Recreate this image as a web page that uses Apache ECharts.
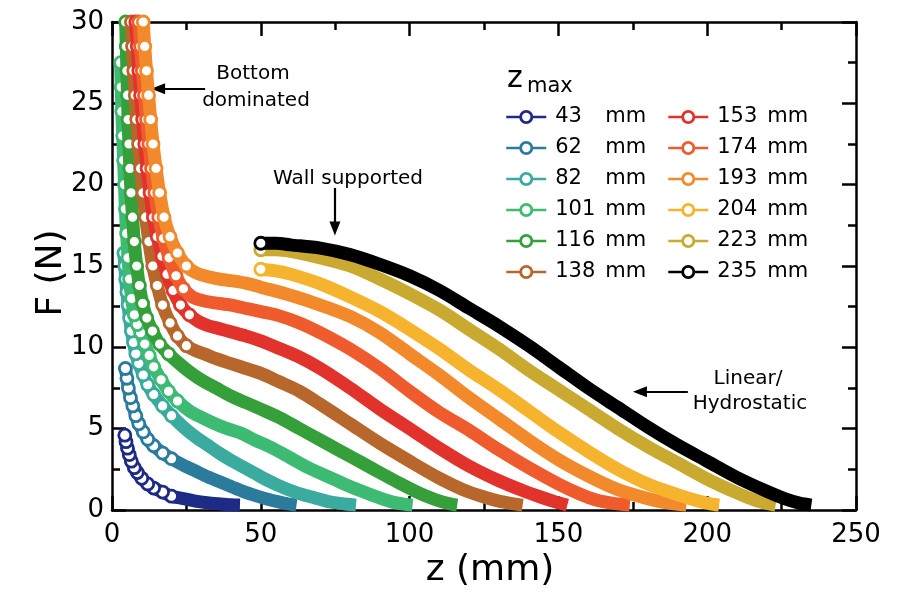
<!DOCTYPE html>
<html><head><meta charset="utf-8">
<script src="https://cdn.jsdelivr.net/npm/echarts@6/dist/echarts.min.js"></script>
<style>html,body{margin:0;padding:0;background:#fff}#c{width:911px;height:594px}</style>
</head><body><div id="c"></div>
<script>
// ---- data (z in mm, F in N) ----
const zmaxLabels = ['43','62','82','101','116','138','153','174','193','204','223','235'];
const colors = ['#1d2a86','#2b7c9c','#3aab9e','#3dbb73','#35a03a','#b8672c','#e2322c','#ef5b2c','#f28a2c','#f6b42e','#c9a92f','#000000'];

const s43 = [[4.3,4.6],[4.7,4.2],[5.2,3.8],[5.8,3.4],[6.5,3.0],[7.5,2.6],[8.5,2.3],[10,1.95],[12,1.6],[14,1.35],[17,1.1],[20,0.85],[24,0.7],[28,0.55],[32,0.45],[36,0.38],[40,0.32],[43,0.3]];
const s62 = [[4.5,8.7],[5,8.1],[5.5,7.5],[6.2,6.9],[7,6.4],[8,5.8],[9,5.3],[10.5,4.8],[12,4.35],[14,3.95],[17,3.5],[20,3.15],[24,2.75],[28,2.4],[32,2.05],[36,1.75],[40,1.45],[44,1.15],[48,0.9],[52,0.68],[56,0.5],[59,0.38],[62,0.3]];
const s82 = [[4,15.8],[4.3,15.0],[4.6,14.2],[5,13.4],[5.4,12.6],[5.9,11.8],[6.5,11.0],[7.2,10.3],[8,9.6],[9,9.0],[10.5,8.3],[12,7.7],[14,7.1],[17,6.4],[20,5.8],[24,5.1],[28,4.5],[32,4.0],[36,3.5],[40,3.05],[44,2.65],[48,2.25],[52,1.85],[56,1.5],[60,1.2],[64,0.95],[68,0.75],[72,0.55],[76,0.42],[79,0.35],[82,0.3]];
const s101 = [[2.9,27.5],[3.1,26],[3.3,24.5],[3.6,23],[3.9,21.5],[4.2,20],[4.5,18.5],[4.9,17],[5.4,15.5],[5.9,14.2],[6.6,13.0],[7.5,12.0],[8.5,11.4],[9.6,10.9],[11,10.2],[12.5,9.5],[14,8.8],[16.5,8.0],[19,7.3],[22,6.7],[26,6.1],[30,5.7],[34,5.35],[38,5.05],[43,4.75],[48,4.3],[54,3.8],[60,3.2],[66,2.6],[72,2.1],[78,1.6],[84,1.15],[89,0.8],[94,0.5],[98,0.36],[101,0.3]];
const s116 = [[4.6,30],[4.8,28.5],[5.0,27],[5.2,25.5],[5.4,24],[5.7,22.5],[6.0,21],[6.4,19.5],[6.9,18],[7.5,16.5],[8.3,15],[9.2,13.8],[10.3,12.7],[11.7,11.8],[13.6,11.0],[16,10.2],[19,9.6],[22,9.1],[26,8.5],[30,8.0],[35,7.5],[40,7.0],[45,6.6],[50,6.2],[56,5.7],[63,5.0],[70,4.3],[77,3.6],[84,2.9],[90,2.3],[96,1.7],[102,1.15],[107,0.75],[111,0.5],[114,0.36],[116,0.3]];
const s138 = [[6.5,30],[6.9,28.5],[7.3,27],[7.8,25.5],[8.3,24],[8.9,22.5],[9.6,21],[10.4,19.5],[11.3,18],[12.4,16.5],[13.7,15],[15.2,13.8],[17,12.6],[19.5,11.5],[22,10.7],[25,10.1],[28,9.8],[31,9.6],[35,9.3],[40,9.0],[45,8.7],[50,8.4],[56,7.9],[63,7.3],[70,6.5],[80,5.3],[90,4.1],[100,3.0],[110,1.95],[118,1.25],[125,0.8],[130,0.55],[135,0.38],[138,0.3]];
const s153 = [[8,30],[8.5,28.5],[9,27],[9.6,25.5],[10.3,24],[11,22.5],[11.8,21],[12.8,19.5],[13.9,18],[15.2,16.8],[16.8,15.6],[18.5,14.5],[20.5,13.5],[23,12.6],[26,12.0],[29,11.6],[32,11.35],[36,11.15],[40,10.95],[45,10.7],[50,10.4],[56,9.95],[63,9.4],[70,8.7],[80,7.5],[90,6.2],[100,5.0],[110,3.8],[120,2.7],[130,1.8],[138,1.2],[144,0.8],[149,0.5],[153,0.3]];
const s174 = [[9,30],[9.6,28.5],[10.2,27],[10.9,25.5],[11.6,24],[12.4,22.5],[13.3,21],[14.4,19.5],[15.7,18],[17.3,16.7],[19.2,15.5],[21.5,14.4],[24,13.6],[27,13.1],[30,12.9],[34,12.75],[40,12.6],[45,12.4],[50,12.2],[56,11.95],[63,11.5],[70,10.9],[80,9.9],[90,8.7],[100,7.3],[110,6.0],[120,4.9],[130,3.7],[140,2.6],[150,1.6],[157,1.0],[163,0.6],[168,0.42],[174,0.3]];
const s193 = [[10.5,30],[11,28.5],[11.6,27],[12.3,25.5],[13,24],[13.8,22.5],[14.8,21],[16,19.5],[17.5,18],[19.5,16.8],[22,15.8],[25,15.0],[28,14.6],[32,14.35],[36,14.2],[40,14.1],[45,13.95],[50,13.7],[60,13.2],[70,12.6],[80,11.9],[90,10.9],[100,9.6],[110,8.3],[120,6.9],[130,5.6],[140,4.3],[150,3.1],[160,2.1],[170,1.25],[180,0.7],[187,0.42],[193,0.3]];
const s204 = [[50,14.8],[55,14.7],[60,14.5],[70,13.9],[80,13.1],[90,12.2],[100,11.1],[110,9.9],[120,8.6],[130,7.4],[140,6.1],[150,4.8],[160,3.6],[170,2.5],[180,1.6],[190,0.95],[197,0.55],[201,0.38],[204,0.3]];
const s223 = [[50,16.0],[55,16.0],[60,15.9],[70,15.5],[80,15.0],[90,14.2],[100,13.3],[110,12.3],[120,11.1],[130,9.9],[140,8.6],[150,7.4],[160,6.2],[170,5.0],[180,3.9],[190,2.9],[200,1.9],[210,1.05],[216,0.6],[220,0.4],[223,0.3]];
const s235 = [[50,16.4],[55,16.4],[60,16.3],[70,16.1],[80,15.7],[90,15.1],[100,14.4],[110,13.5],[120,12.4],[130,11.3],[140,10.1],[150,8.8],[160,7.5],[170,6.3],[180,5.1],[190,4.0],[200,3.0],[210,2.0],[220,1.15],[226,0.7],[231,0.42],[235,0.3]];
const seriesValues = [s43,s62,s82,s101,s116,s138,s153,s174,s193,s204,s223,s235];

// annotation arrows, in data coordinates [z, F]
const arrowBottom = [[31.3,25.9],[15.5,25.9]];
const arrowWall = [[74.9,19.8],[74.9,17.3]];
const arrowLinear = [[193.5,7.27],[177.4,7.27]];

const FONT = 'DejaVu Sans';
// pixel scale factors of the plot (px per mm, px per N) used only to judge steepness for marker style
const PX_Z = 744/250, PX_F = 488/30;

const chart = echarts.init(document.getElementById('c'), null, {renderer:'canvas'});

// open circles are drawn where the measured points are spread apart (the steep, bottom-dominated part)
function styledPoints(d){
  const out = d.map((p,k)=>{
    let steep = false;
    if (k===0) steep = true;
    else {
      const dz = (p[0]-d[k-1][0])*PX_Z, dF = Math.abs(p[1]-d[k-1][1])*PX_F;
      steep = dF > 1.0*dz || (p[0] < 22 && dF > 0.3*dz);
    }
    return steep ? {value:p} : {value:p, symbol:'none'};
  });
  return out.reverse(); // drawn from large z to small z
}

const series = seriesValues.map((d,i)=>({
  name: zmaxLabels[i], type:'line', data: styledPoints(d),
  smooth: 0.3, showAllSymbol:true,
  symbol:'circle', symbolSize:12,
  itemStyle:{color:'#fff', borderColor: colors[i], borderWidth:2.8},
  lineStyle:{width:13, color: colors[i]},
  emphasis:{disabled:true}, z: 2+i, clip:true
}));
const arrowLine = (pts)=>[{coord:pts[0], symbol:'none'},{coord:pts[1], symbol:'triangle'}];
series[0].markLine = {
  silent:true, animation:false, symbolSize:[11,14],
  label:{show:false}, lineStyle:{color:'#000', width:2.2, type:'solid'},
  data:[arrowLine(arrowBottom), arrowLine(arrowWall), arrowLine(arrowLinear)]
};

const axisCommon = {
  axisLine:{show:true, onZero:false, lineStyle:{color:'#000', width:2.5}},
  axisTick:{show:true, inside:true, length:14, lineStyle:{color:'#000', width:2.5}},
  minorTick:{show:true, splitNumber:2, length:8, lineStyle:{color:'#000', width:2.5}},
  splitLine:{show:false}, minorSplitLine:{show:false}
};
const legendBase = {
  orient:'vertical', itemWidth:40, itemHeight:14, itemGap:9, padding:0,
  selectedMode:false, inactiveColor:'#000',
  lineStyle:{width:2.5}, itemStyle:{color:'#fff', borderWidth:2.8},
  formatter: name => '{n|'+name+'}{u|mm}',
  textStyle:{color:'#000', fontFamily:FONT, fontSize:21, lineHeight:22,
    rich:{n:{width:50, fontSize:21, fontFamily:FONT, padding:[0,0,0,4]}, u:{fontSize:21, fontFamily:FONT}}}
};

chart.setOption({
  animation:false, backgroundColor:'#fff',
  textStyle:{fontFamily:FONT},
  grid:{left:112, right:55, top:22, bottom:84},
  legend:[
    Object.assign({}, legendBase, {data: zmaxLabels.slice(0,6), left:505, top:106}),
    Object.assign({}, legendBase, {data: zmaxLabels.slice(6), left:667, top:106})
  ],
  xAxis:[
    Object.assign({type:'value', min:0, max:250, interval:50, position:'bottom',
      axisLabel:{color:'#000', fontSize:26, fontFamily:FONT, margin:12},
      name:'z (mm)', nameLocation:'middle', nameGap:42,
      nameTextStyle:{color:'#000', fontSize:36, fontFamily:FONT, padding:[0,0,0,12]}}, axisCommon),
    Object.assign({type:'value', min:0, max:250, interval:50, position:'top', axisLabel:{show:false}}, axisCommon)
  ],
  yAxis:[
    Object.assign({type:'value', min:0, max:30, interval:5, position:'left',
      axisLabel:{color:'#000', fontSize:26, fontFamily:FONT, margin:8},
      name:'F (N)', nameLocation:'middle', nameGap:42, nameMoveOverlap:false,
      nameTextStyle:{color:'#000', fontSize:36, fontFamily:FONT, padding:[0,14,0,0]}}, axisCommon),
    Object.assign({type:'value', min:0, max:30, interval:5, position:'right', axisLabel:{show:false}}, axisCommon)
  ],
  graphic:[
    {type:'text', left:507, top:64, style:{text:'z', font:'30px "DejaVu Sans"', fill:'#000'}},
    {type:'text', left:527, top:76, style:{text:'max', font:'21px "DejaVu Sans"', fill:'#000'}},
    {type:'text', x:253, y:74, style:{text:'Bottom', font:'20px "DejaVu Sans"', fill:'#000', align:'center', verticalAlign:'middle'}},
    {type:'text', x:256, y:101, style:{text:'dominated', font:'20px "DejaVu Sans"', fill:'#000', align:'center', verticalAlign:'middle'}},
    {type:'text', x:348, y:179, style:{text:'Wall supported', font:'20px "DejaVu Sans"', fill:'#000', align:'center', verticalAlign:'middle'}},
    {type:'text', x:748, y:379, style:{text:'Linear/', font:'20px "DejaVu Sans"', fill:'#000', align:'center', verticalAlign:'middle'}},
    {type:'text', x:750, y:404, style:{text:'Hydrostatic', font:'20px "DejaVu Sans"', fill:'#000', align:'center', verticalAlign:'middle'}}
  ],
  series: series
});
</script></body></html>
